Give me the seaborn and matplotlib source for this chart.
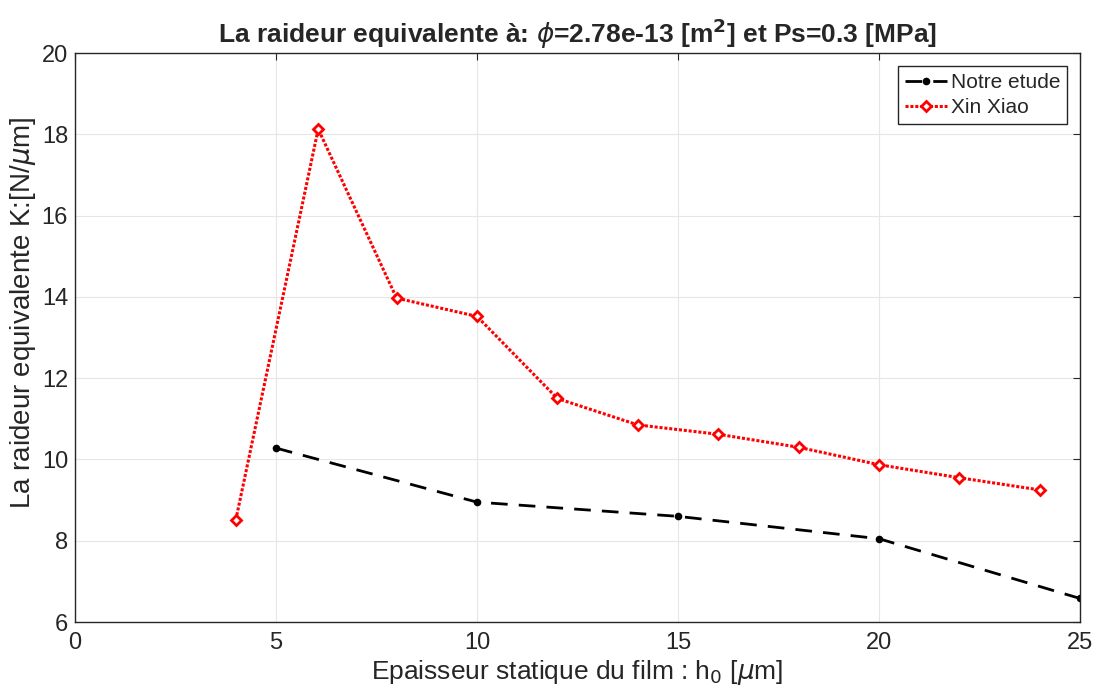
"""Raideur equivalente vs epaisseur du film"""

import matplotlib.pyplot as plt
import pandas as pd
import seaborn as sns

# Notre etude
h_notre = [5, 10, 15, 20, 25]
k_notre = [10.28, 8.95, 8.6, 8.05, 6.58]

# Xin Xiao
h_xiao = [4, 6.05, 8, 10, 12, 14, 16, 18, 20, 22, 24]
k_xiao = [8.51, 18.13, 13.97, 13.52, 11.5, 10.85, 10.62, 10.3, 9.87, 9.55, 9.25]

x_ticks = [0, 5, 10, 15, 20, 25]
y_ticks = [6, 8, 10, 12, 14, 16, 18, 20]

sns.set_style("whitegrid")
plt.rcParams["font.family"] = ["Liberation Sans", "DejaVu Sans"]
plt.rcParams["mathtext.fontset"] = "dejavusans"

df_notre = pd.DataFrame({"h": h_notre, "k": k_notre})
df_xiao = pd.DataFrame({"h": h_xiao, "k": k_xiao})

fig = plt.figure(figsize=(10.98, 6.95), dpi=100)
ax = fig.add_axes([0.0683, 0.105, 0.9153, 0.8187])

sns.lineplot(
    data=df_notre, x="h", y="k", ax=ax, color="black", linestyle=(0, (6, 4)),
    linewidth=2, marker="o", markersize=5.5, markeredgewidth=0,
    label="Notre etude",
)
sns.lineplot(
    data=df_xiao, x="h", y="k", ax=ax, color="red", linestyle=(0, (1.0, 0.6)),
    linewidth=2.2, marker="D", markersize=5.5, markerfacecolor="white",
    markeredgecolor="red", markeredgewidth=2, label="Xin Xiao",
)

ax.set_xlim(0, 25)
ax.set_ylim(6, 20)
ax.set_xticks(x_ticks)
ax.set_yticks(y_ticks)
ax.grid(True, color="#e6e6e6", linewidth=0.8)
for spine in ax.spines.values():
    spine.set_color("#262626")
    spine.set_linewidth(1)
ax.tick_params(axis="both", labelsize=17, direction="in", length=5,
               color="#262626", labelcolor="#262626")
ax.tick_params(axis="x", pad=7)
ax.tick_params(axis="y", pad=5)
ax.tick_params(top=True, right=True)

ax.set_xlabel(r"Epaisseur statique du film : h$_0$ [$\mu$m]", fontsize=19,
              color="#262626", labelpad=3)
ax.set_ylabel(r"La raideur equivalente K:[N/$\mu$m]", fontsize=20,
              color="#262626")
ax.yaxis.set_label_coords(-0.037, 0.543)
ax.set_title(r"La raideur equivalente à: $\phi$=2.78e-13 [m$^\mathbf{2}$] et Ps=0.3 [MPa]",
             fontsize=19, fontweight="bold", pad=7)

ax.legend(loc="upper right", fontsize=15, frameon=True, fancybox=False,
          edgecolor="#262626", framealpha=1, handlelength=2.0,
          borderpad=0.35, labelspacing=0.3, handletextpad=0.2,
          borderaxespad=0.6)

plt.savefig("out.png", dpi=100)
plt.close()
